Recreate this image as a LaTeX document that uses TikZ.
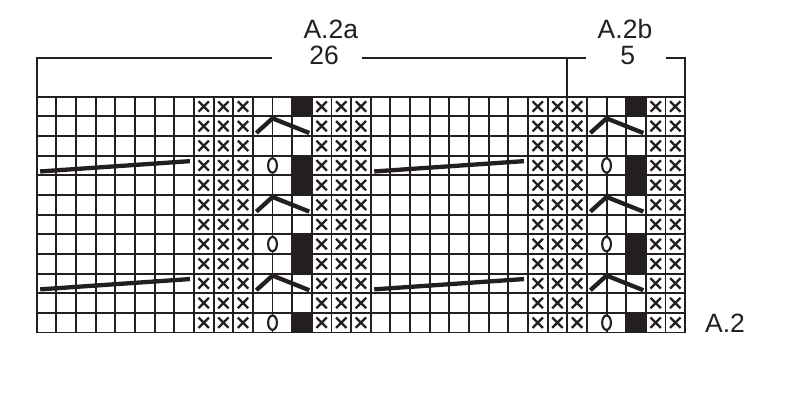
\documentclass[tikz,border=0pt]{standalone}
\usepackage{fontspec}
\setmainfont{Liberation Sans}
\begin{document}
\begin{tikzpicture}[x=1pt,y=-1pt]
\definecolor{ink}{HTML}{231F20}
\def\cw{19.65}
\def\xo{36.7}
\def\yo{96.7}
\tikzset{
  gridline/.style={line width=1.9pt, draw=ink, line cap=rect},
  bracket/.style={line width=1.6pt, draw=ink},
  xmark/.style={line width=2.3pt, draw=ink},
  stroke/.style={line width=4.3pt, draw=ink},
  omark/.style={line width=2.1pt, draw=ink, fill=white},
  blackcell/.style={fill=ink},
  lbl/.style={font=\fontsize{26.5}{30}\selectfont, text=ink, inner sep=0pt, anchor=base}
}
\useasboundingbox (0,0) rectangle (793,400);
\fill[white] (0,0) rectangle (793,400);
% grid
\foreach \i in {0,...,33} {
  \draw[gridline] ({\xo+\i*\cw},\yo) -- ({\xo+\i*\cw},{\yo+12*\cw});
}
\foreach \j in {0,...,12} {
  \draw[gridline] (\xo,{\yo+\j*\cw}) -- ({\xo+33*\cw},{\yo+\j*\cw});
}
% black cells
\foreach \c in {13,30} {
  \foreach \r in {0,3,4,7,8,11} {
    \fill[blackcell] ({\xo+\c*\cw},{\yo+\r*\cw}) rectangle ({\xo+(\c+1)*\cw},{\yo+(\r+1)*\cw});
  }
}
% X marks
\foreach \c in {8,9,10,14,15,16,25,26,27,31,32} {
  \foreach \r in {0,...,11} {
    \pgfmathsetmacro\cx{\xo+(\c+0.5)*\cw}
    \pgfmathsetmacro\cy{\yo+(\r+0.5)*\cw}
    \draw[xmark, shift={(\cx,\cy)}] (-5.2,-5.2) -- (5.2,5.2) (-5.2,5.2) -- (5.2,-5.2);
  }
}
% symbols per repeat
\foreach \g in {0,17} {
  % peaks
  \foreach \r in {1,5,9} {
    \pgfmathsetmacro\ty{\yo+\r*\cw}
    \draw[stroke] ({\xo+(\g+11)*\cw+3.5},{\ty+\cw-3}) -- ({\xo+(\g+12)*\cw},{\ty+2}) -- ({\xo+(\g+14)*\cw-2.5},{\ty+\cw-3});
  }
  % long slanted lines
  \foreach \r in {3,9} {
    \pgfmathsetmacro\ty{\yo+\r*\cw}
    \draw[stroke] ({\xo+\g*\cw+3.5},{\ty+15.8}) -- ({\xo+(\g+8)*\cw-4},{\ty+5.5});
  }
  % yarn overs
  \foreach \r in {3,7,11} {
    \draw[omark] ({\xo+(\g+12)*\cw},{\yo+(\r+0.5)*\cw}) ellipse [x radius=4.4, y radius=7.2];
  }
}
% brackets
\coordinate (bl) at (\xo,57.7);
\coordinate (bm) at ({\xo+27*\cw},57.7);
\coordinate (br) at ({\xo+33*\cw},57.7);
\draw[bracket] (\xo,\yo) -- (bl) -- (271.7,57.7);
\draw[bracket] (361.7,57.7) -- (586,57.7);
\draw[bracket] (bm) -- ({\xo+27*\cw},\yo);
\draw[bracket] (666,57.7) -- (br) -- ({\xo+33*\cw},\yo);
% labels
\node[lbl] (a2a) at (330.8,38.3) {A.2a};
\node[lbl] (n26) at (324.2,64) {26};
\node[lbl] (a2b) at (625,38.3) {A.2b};
\node[lbl] (n5) at (627.8,64) {5};
\node[lbl] (a2) at (725,332) {A.2};
\end{tikzpicture}
\end{document}
